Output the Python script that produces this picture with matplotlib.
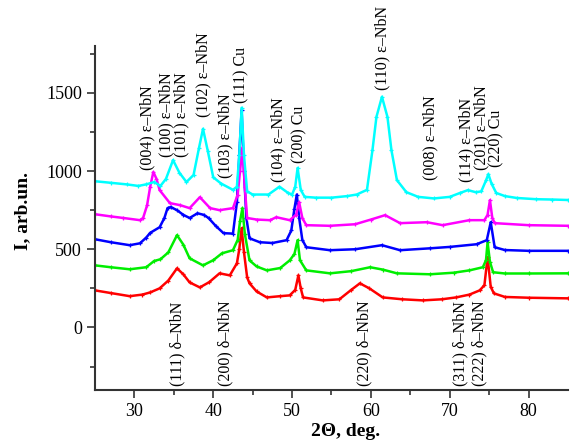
import matplotlib
matplotlib.use("Agg")
import matplotlib.pyplot as plt

# XRD patterns, 2theta (deg) and intensity
x_red = [25, 27, 29.4, 31, 32, 33.2, 34.3, 35.4, 36.2, 37, 38.3, 39.5, 40.8, 42.1, 43.0, 43.3, 43.6,
         43.9, 44.3, 44.6, 45.5, 46.8, 48.5, 49.7, 50.4, 50.8, 51.1, 51.4, 53.9, 56, 57.5, 58.6, 59.8,
         61.5, 64, 66.6, 69, 70.8, 72.5, 73.8, 74.4, 74.8, 75.2, 75.6, 77, 80, 85]
y_red = [237, 220, 200, 210, 224, 250, 300, 378, 340, 288, 256, 290, 346, 333, 410, 500, 635,
         480, 320, 282, 230, 192, 200, 205, 240, 333, 250, 192, 173, 180, 240, 282, 250,
         192, 180, 173, 180, 192, 210, 237, 270, 450, 260, 218, 195, 190, 186]

x_green = [25, 27, 29.4, 31.5, 32.5, 33.3, 34.3, 35.4, 36.2, 37, 38.7, 40, 41.1, 42.5, 43.1, 43.4,
           43.7, 44.0, 44.6, 45.5, 46.8, 48.5, 49.7, 50.3, 50.7, 51.0, 51.8, 54.8, 57.5, 59.9, 61.5,
           63.3, 67.5, 70.5, 72.5, 74.2, 74.6, 74.8, 75.1, 75.5, 77, 80, 85]
y_green = [397, 385, 372, 385, 425, 436, 480, 590, 530, 442, 397, 430, 474, 494, 560, 680,
           763, 600, 429, 390, 365, 380, 429, 470, 558, 430, 365, 346, 360, 385, 370,
           346, 340, 350, 365, 385, 430, 545, 420, 353, 345, 345, 346]

x_blue = [25, 27, 29.4, 30.7, 31.5, 32, 33.2, 33.8, 34.2, 34.6, 35.4, 36.2, 37, 38, 38.8, 39.4,
          40.3, 41.3, 42.5, 43.0, 43.3, 43.6, 43.9, 44.2, 44.6, 45.9, 47.5, 49.3, 49.9, 50.3, 50.6,
          50.9, 51.3, 51.8, 54.8, 58, 61.4, 63.7, 67.5, 70, 73.4, 74.7, 75.2, 75.7, 77, 80, 85]
y_blue = [564, 545, 526, 538, 575, 605, 641, 700, 763, 770, 750, 720, 700, 730, 720, 700,
          650, 603, 600, 800, 1100, 1390, 1000, 700, 570, 545, 540, 558, 620, 760, 850,
          700, 560, 513, 494, 500, 526, 494, 506, 515, 532, 558, 673, 513, 495, 490, 490]

x_magenta = [25, 27, 28.6, 30.7, 31.1, 31.6, 32.0, 32.4, 32.8, 33.2, 34.5, 35.8, 37, 38.3, 39.6,
             40.8, 42.5, 43.1, 43.4, 43.7, 44.0, 44.3, 45.5, 47.2, 48, 49.7, 50.5, 50.9, 51.3, 51.8,
             54.8, 58, 60, 61.8, 63.7, 67.1, 69.1, 72.5, 74.4, 74.8, 75.1, 75.4, 75.7, 80, 85]
y_magenta = [724, 710, 700, 686, 700, 780, 900, 994, 950, 878, 795, 782, 763, 833, 763,
             750, 763, 850, 1000, 1150, 900, 700, 690, 686, 705, 686, 720, 800, 700, 654,
             650, 660, 690, 718, 667, 673, 654, 686, 686, 720, 814, 700, 667, 654, 650]

x_cyan = [25, 27, 29, 30.5, 31.5, 32.5, 33.3, 34, 34.9, 35.7, 36.6, 37.5, 38.2, 38.7, 39.3, 40.0,
          41, 42.5, 43.0, 43.3, 43.6, 43.9, 44.3, 45, 47, 48.4, 49.5, 50.0, 50.4, 50.7, 51.1, 51.6,
          53, 55, 57, 58.2, 59.5, 60.2, 60.7, 61.4, 62.1, 62.6, 63.3, 64.5, 66, 68, 70, 71.3, 72.3,
          73.3, 74, 74.6, 74.9, 75.3, 75.9, 77, 78.5, 81, 83, 85]
y_cyan = [935, 925, 915, 905, 915, 930, 905, 950, 1070, 990, 930, 975, 1150, 1270, 1130, 960,
          920, 880, 900, 1100, 1405, 1100, 870, 850, 850, 900, 860, 850, 900, 1020, 880, 835,
          830, 830, 840, 850, 880, 1135, 1346, 1475, 1346, 1135, 942, 865, 835, 825, 835, 860, 878,
          865, 870, 940, 980, 920, 860, 840, 828, 820, 818, 815]

# peak labels: text, 2theta, bottom of the label
top_labels = ["(004) ε–NbN", "(100) ε–NbN", "(101) ε–NbN", "(102) ε–NbN", "(103) ε–NbN",
              "(111) Cu", "(104) ε–NbN", "(200) Cu", "(110) ε–NbN", "(008) ε–NbN",
              "(114) ε–NbN", "(201) ε–NbN", "(220) Cu"]
top_x = [31.7, 34.1, 36.0, 38.7, 41.6, 43.6, 48.2, 50.9, 61.4, 67.5, 72.1, 74.0, 75.9]
top_y = [1006, 1090, 1090, 1346, 955, 1436, 930, 1051, 1519, 942, 930, 1006, 1026]

bottom_labels = ["(111) δ–NbN", "(200) δ–NbN", "(220) δ–NbN", "(311) δ–NbN", "(222) δ–NbN"]
bottom_x = [35.4, 41.5, 59.2, 71.3, 73.8]
bottom_y = -372

plt.rcParams['font.family'] = ['Liberation Serif', 'DejaVu Serif']

fig = plt.figure(figsize=(5.71, 4.46), dpi=100)
ax = fig.add_axes([0.1664, 0.1256, 0.8283, 0.7713])

series = [(x_red, y_red, '#ff0000'), (x_green, y_green, '#00ee00'), (x_blue, y_blue, '#0000ff'),
          (x_magenta, y_magenta, '#ff00ff'), (x_cyan, y_cyan, '#00ffff')]
for xs, ys, c in series:
    ax.plot(xs, ys, color=c, lw=1.8, marker='+', ms=3.5, mew=0.9)

for t, xx, yy in zip(top_labels, top_x, top_y):
    ax.text(xx, yy, t, rotation=90, ha='center', va='bottom', fontsize=11.5)
for t, xx in zip(bottom_labels, bottom_x):
    ax.text(xx, bottom_y, t, rotation=90, ha='center', va='bottom', fontsize=11.5)

ax.set_xlim(25, 85)
ax.set_ylim(-400, 1800)
ax.set_xticks([30, 40, 50, 60, 70, 80])
ax.set_xticks([35, 45, 55, 65, 75], minor=True)
ax.set_yticks([0, 500, 1000, 1500])
ax.set_yticks([-250, 250, 750, 1250, 1750], minor=True)
ax.tick_params(which='major', direction='out', length=6, width=1.2, labelsize=13, colors='#333333',
               labelcolor='black')
ax.tick_params(which='minor', direction='out', length=3.5, width=1.2, colors='#333333')

for s in ['top', 'right']:
    ax.spines[s].set_visible(False)
for s in ['left', 'bottom']:
    ax.spines[s].set_linewidth(1.5)
    ax.spines[s].set_color('#333333')

ax.set_xlabel('2Θ, deg.', fontsize=14, fontweight='bold')
ax.set_ylabel('I, arb.un.', fontsize=14, fontweight='bold')
ax.xaxis.set_label_coords(0.529, -0.095)
ax.yaxis.set_label_coords(-0.135, 0.52)

fig.savefig('out.png', dpi=100)
